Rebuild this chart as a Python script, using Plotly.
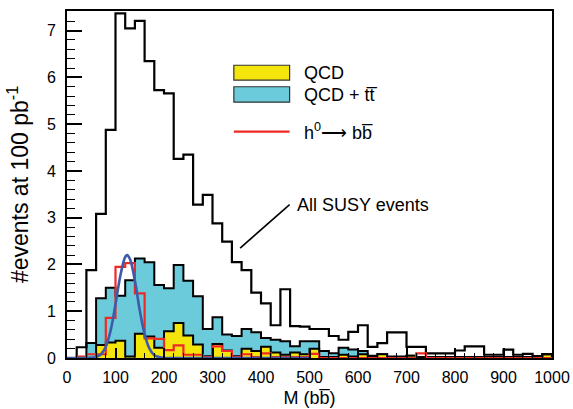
import plotly.graph_objects as go

# ---------------- data ----------------
bin_width = 20
x_min, x_max = 0, 1000

susy = [0.00, 0.23, 1.88, 3.08, 4.88, 7.37, 7.05, 7.21, 6.35, 5.73,
        5.66, 4.26, 4.35, 3.28, 3.49, 2.88, 2.49, 2.05, 1.88, 1.40,
        1.17, 0.70, 1.47, 0.68, 0.67, 0.62, 0.62, 0.47, 0.39, 0.56,
        0.70, 0.24, 0.32, 0.55, 0.55, 0.24, 0.24, 0.10, 0.10, 0.10,
        0.16, 0.25, 0.25, 0.07, 0.07, 0.18, 0.07, 0.09, 0.04, 0.08]

qcd_tt = [0.00, 0.00, 0.32, 1.28, 1.50, 1.33, 1.66, 2.13, 2.05, 1.56,
          1.49, 1.99, 1.65, 1.32, 0.62, 0.87, 0.50, 0.47, 0.62, 0.55,
          0.43, 0.39, 0.36, 0.25, 0.36, 0.36, 0.15, 0.10, 0.22, 0.18,
          0.15, 0.05, 0.08, 0.03, 0.03, 0.05, 0.02, 0.02, 0.02, 0.02,
          0.02, 0.02, 0.02, 0.02, 0.02, 0.02, 0.02, 0.02, 0.02, 0.08]

qcd = [0.00, 0.00, 0.00, 0.28, 0.33, 0.37, 0.03, 0.52, 0.46, 0.22,
       0.57, 0.75, 0.48, 0.29, 0.04, 0.30, 0.16, 0.04, 0.20, 0.15,
       0.24, 0.12, 0.07, 0.12, 0.08, 0.20, 0.02, 0.02, 0.07, 0.03,
       0.08, 0.02, 0.08, 0.02, 0.02, 0.05, 0.00, 0.02, 0.02, 0.02,
       0.02, 0.02, 0.02, 0.02, 0.02, 0.02, 0.02, 0.02, 0.02, 0.08]

higgs = [0.00, 0.03, 0.08, 0.08, 0.86, 1.95, 2.03, 1.38, 0.42, 0.41,
         0.17, 0.27, 0.07, 0.07, 0.02, 0.25, 0.15, 0.02, 0.08, 0.02,
         0.10, 0.02, 0.02, 0.02, 0.02, 0.09, 0.00, 0.00, 0.00, 0.00,
         0.00, 0.00, 0.00, 0.00, 0.00, 0.00, 0.10, 0.00, 0.00, 0.00,
         0.00, 0.00, 0.00, 0.00, 0.00, 0.00, 0.00, 0.00, 0.00, 0.00]

# Gaussian fit curve
fit_x = [0, 40, 60, 70, 80, 90, 100, 110, 120, 124, 130, 140, 150,
         160, 170, 180, 190, 200, 220, 300, 400, 500]
fit_y = [0.0, 0.0, 0.02, 0.08, 0.24, 0.59, 1.15, 1.76, 2.16, 2.20, 2.11,
         1.65, 1.02, 0.51, 0.20, 0.06, 0.02, 0.0, 0.0, 0.0, 0.0, 0.0]

x_tick_vals = [0, 100, 200, 300, 400, 500, 600, 700, 800, 900, 1000]
y_tick_vals = [0, 1, 2, 3, 4, 5, 6, 7]

# ---------------- helpers ----------------
edges = [x_min + i * bin_width for i in range(len(susy) + 1)]


def step(vals):
    xs = [edges[0]] + edges[:-1] + [edges[-1], edges[-1]]
    ys = [0] + list(vals) + [vals[-1], 0]
    return xs, ys


FONT = "Liberation Sans, Arial, Helvetica, sans-serif"
YELLOW = "#F4E50C"
CYAN = "#6BCBDA"
RED = "#EE2A24"
BLUE = "#3D5BAA"

fig = go.Figure()

xs, ys = step(qcd_tt)
fig.add_trace(go.Scatter(x=xs, y=ys, mode="lines", line=dict(shape="hv", color="black", width=2),
                         fill="tozeroy", fillcolor=CYAN, hoverinfo="skip"))
xs, ys = step(qcd)
fig.add_trace(go.Scatter(x=xs, y=ys, mode="lines", line=dict(shape="hv", color="black", width=2),
                         fill="tozeroy", fillcolor=YELLOW, hoverinfo="skip"))
xs, ys = step(susy)
fig.add_trace(go.Scatter(x=xs, y=ys, mode="lines", line=dict(shape="hv", color="black", width=2.2),
                         hoverinfo="skip"))
xs, ys = step(higgs)
fig.add_trace(go.Scatter(x=xs, y=ys, mode="lines", line=dict(shape="hv", color=RED, width=2.2),
                         hoverinfo="skip"))
fig.add_trace(go.Scatter(x=fit_x, y=fit_y, mode="lines", line=dict(shape="spline", color=BLUE, width=2.6),
                         hoverinfo="skip"))

# ---------------- legend (drawn manually) ----------------
shapes = [
    dict(type="rect", xref="x", yref="y", x0=344, x1=459, y0=5.94, y1=6.26,
         fillcolor=YELLOW, line=dict(color="#333", width=1.2)),
    dict(type="rect", xref="x", yref="y", x0=344, x1=459, y0=5.47, y1=5.80,
         fillcolor=CYAN, line=dict(color="#333", width=1.2)),
    dict(type="line", xref="x", yref="y", x0=344, x1=459, y0=4.84, y1=4.84,
         line=dict(color=RED, width=2.2)),
    # pointer line to label
    dict(type="line", xref="x", yref="y", x0=357, y0=2.35, x1=459, y1=3.28,
         line=dict(color="black", width=1.6)),
]

annotations = [
    dict(x=484, y=6.10, xref="x", yref="y", text="QCD", showarrow=False,
         xanchor="left", yanchor="middle", font=dict(family=FONT, size=18, color="black")),
    dict(x=484, y=5.62, xref="x", yref="y", text="QCD + tt\u0305", showarrow=False,
         xanchor="left", yanchor="middle", font=dict(family=FONT, size=18, color="black")),
    dict(x=484, y=4.84, xref="x", yref="y", text="h<sup>0</sup>\u27f6 bb\u0305", showarrow=False,
         xanchor="left", yanchor="middle", font=dict(family=FONT, size=18, color="black")),
    dict(x=470, y=3.28, xref="x", yref="y", text="All SUSY events", showarrow=False,
         xanchor="left", yanchor="middle", font=dict(family=FONT, size=18, color="black")),
]

fig.update_layout(
    width=573, height=409,
    margin=dict(l=67, r=21, t=11, b=51, autoexpand=False),
    paper_bgcolor="white", plot_bgcolor="white",
    showlegend=False,
    shapes=shapes, annotations=annotations,
    font=dict(family=FONT, size=16, color="black"),
)

fig.update_xaxes(
    range=[x_min, x_max], tickvals=x_tick_vals, automargin=False,
    showline=True, linecolor="black", linewidth=2, mirror=True,
    ticks="inside", ticklen=10, tickwidth=1.5, tickcolor="black",
    minor=dict(ticks="inside", ticklen=5, tickwidth=1.2, tickcolor="black", dtick=bin_width),
    showgrid=False, zeroline=False,
    tickfont=dict(family=FONT, size=16, color="black"),
    ticklabelstandoff=4,
    title=dict(text="M (bb\u0305)", font=dict(family=FONT, size=18, color="black"), standoff=6),
)
fig.update_yaxes(
    range=[0, 7.42], tickvals=y_tick_vals, automargin=False,
    showline=True, linecolor="black", linewidth=2, mirror=True,
    ticks="inside", ticklen=15, tickwidth=1.5, tickcolor="black",
    minor=dict(ticks="inside", ticklen=8, tickwidth=1.2, tickcolor="black", dtick=0.2),
    showgrid=False, zeroline=False,
    tickfont=dict(family=FONT, size=16, color="black"),
    ticklabelstandoff=6,
    title=dict(text="#events at 100 pb<sup>-1</sup>", font=dict(family=FONT, size=23, color="black"), standoff=12),
)

fig.write_html("out.html")
